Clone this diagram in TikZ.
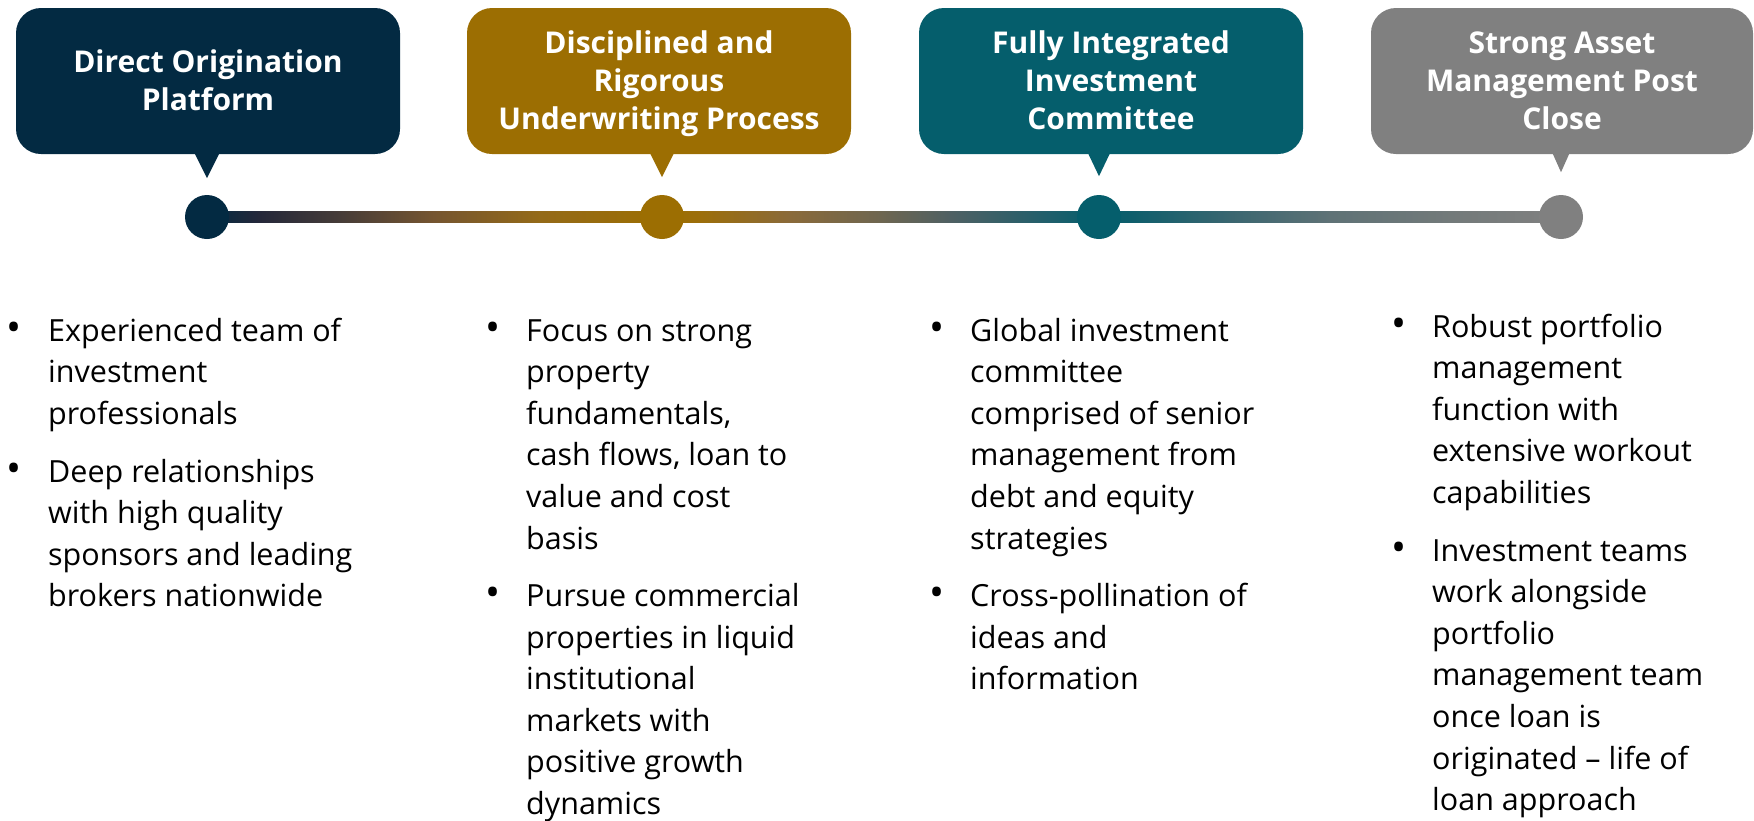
\documentclass[tikz,border=0pt]{standalone}
\usepackage{fontspec}
\setmainfont{Open Sans}
\usetikzlibrary{calc,backgrounds}
\definecolor{navy}{HTML}{032A42}
\definecolor{gold}{HTML}{9C6E02}
\definecolor{teal}{HTML}{055E6C}
\definecolor{greyc}{HTML}{808080}
\definecolor{gA}{HTML}{25283A}
\definecolor{gB}{HTML}{463C38}
\definecolor{gC}{HTML}{755530}
\definecolor{gD}{HTML}{946A18}
\definecolor{gE}{HTML}{9C6E0A}
\definecolor{gF}{HTML}{8A6A3A}
\definecolor{gG}{HTML}{6E6650}
\definecolor{gH}{HTML}{4F6063}
\definecolor{gI}{HTML}{1F5F6C}
\definecolor{gJ}{HTML}{0E5E6C}
\definecolor{gK}{HTML}{3A6670}
\definecolor{gL}{HTML}{5F7276}
\definecolor{gM}{HTML}{737A7A}
\pgfdeclarehorizontalshading{timeline}{100bp}{color(0bp)=(navy); color(25bp)=(navy);
  color(26.957bp)=(gA); color(29.911bp)=(gB); color(33.383bp)=(gC); color(37.297bp)=(gD);
  color(41.802bp)=(gold); color(43.205bp)=(gE); color(46.529bp)=(gF); color(49.853bp)=(gG);
  color(52.437bp)=(gH); color(56.130bp)=(gI); color(57.940bp)=(teal); color(59.085bp)=(gJ);
  color(62.777bp)=(gK); color(66.470bp)=(gL); color(70.902bp)=(gM); color(75bp)=(greyc);
  color(100bp)=(greyc)}
\newcommand{\itemlines}[1]{\begin{tabular}[t]{@{}l@{}}#1\end{tabular}}
\newcommand{\hdrlines}[1]{\begin{tabular}[t]{@{}c@{}}#1\end{tabular}}
\tikzset{
  hdr/.style={rounded corners=25pt, minimum width=384pt, minimum height=146pt, inner sep=0pt},
  hdrtext/.style={anchor=base, inner sep=0pt, text=white, font=\bfseries\fontsize{30}{38}\selectfont},
  dot/.style={circle, minimum size=44pt, inner sep=0pt},
  item/.style={anchor=base west, inner sep=0pt, font=\fontsize{30.5}{41.6}\selectfont},
  bul/.style={anchor=center, inner sep=0pt, font=\fontsize{40}{40}\selectfont},
}
\begin{document}
\begin{tikzpicture}[x=1pt,y=-1pt]
\useasboundingbox (0,0) rectangle (1754,820);
% header boxes
\node[hdr, fill=navy] (h1) at (208,81) {};
\node[hdr, fill=gold] (h2) at (659,81) {};
\node[hdr, fill=teal] (h3) at (1111,81) {};
\node[hdr, fill=greyc, minimum width=382pt] (h4) at (1562,81) {};
% header texts
\node[hdrtext] (ht1) at ($(h1.north)+(0,65)$) {\hdrlines{Direct Origination\\Platform}};
\node[hdrtext] (ht2) at ($(h2.north)+(0,46)$) {\hdrlines{Disciplined and\\Rigorous\\Underwriting Process}};
\node[hdrtext] (ht3) at ($(h3.north)+(0,46)$) {\hdrlines{Fully Integrated\\Investment\\Committee}};
\node[hdrtext] (ht4) at ($(h4.north)+(0,46)$) {\hdrlines{Strong Asset\\Management Post\\Close}};
% dots
\node[dot, fill=navy] (c1) at (207,217) {};
\node[dot, fill=gold] (c2) at (662,217) {};
\node[dot, fill=teal] (c3) at (1099,217) {};
\node[dot, fill=greyc] (c4) at (1561,217) {};
% tails
\fill[navy] ($(c1|-h1.south)+(-12.5,-1)$) -- ($(c1|-h1.south)+(12.5,-1)$) -- ($(c1|-h1.south)+(0,24)$) -- cycle;
\fill[gold] ($(c2|-h2.south)+(-12,-1)$) -- ($(c2|-h2.south)+(12,-1)$) -- ($(c2|-h2.south)+(0,23)$) -- cycle;
\fill[teal] ($(c3|-h3.south)+(-11,-1)$) -- ($(c3|-h3.south)+(11,-1)$) -- ($(c3|-h3.south)+(0,22)$) -- cycle;
\fill[greyc] ($(c4|-h4.south)+(-8.5,-1)$) -- ($(c4|-h4.south)+(8.5,-1)$) -- ($(c4|-h4.south)+(0,18)$) -- cycle;
% connector
\begin{scope}[on background layer]
\shade[shading=timeline] ($(c1.center)+(0,-5.5)$) rectangle ($(c4.center)+(0,5.5)$);
\end{scope}
% column 1
\node[bul] (b11) at (14,331.5) {•};
\node[item] (t11) at (48,341) {\itemlines{Experienced team of\\investment\\professionals}};
\node[bul] (b12) at (14,472.5) {•};
\node[item] (t12) at (48,482) {\itemlines{Deep relationships\\with high quality\\sponsors and leading\\brokers nationwide}};
% column 2
\node[bul] (b21) at (493,331.5) {•};
\node[item] (t21) at (526,341) {\itemlines{Focus on strong\\property\\fundamentals,\\cash flows, loan to\\value and cost\\basis}};
\node[bul] (b22) at (493,597) {•};
\node[item] (t22) at (526,606.5) {\itemlines{Pursue commercial\\properties in liquid\\institutional\\markets with\\positive growth\\dynamics}};
% column 3
\node[bul] (b31) at (937.5,331.5) {•};
\node[item] (t31) at (970,341) {\itemlines{Global investment\\committee\\comprised of senior\\management from\\debt and equity\\strategies}};
\node[bul] (b32) at (937.5,597) {•};
\node[item] (t32) at (970,606.5) {\itemlines{Cross-pollination of\\ideas and\\information}};
% column 4
\node[bul] (b41) at (1399,327.5) {•};
\node[item] (t41) at (1432,337) {\itemlines{Robust portfolio\\management\\function with\\extensive workout\\capabilities}};
\node[bul] (b42) at (1399,551.5) {•};
\node[item] (t42) at (1432,561) {\itemlines{Investment teams\\work alongside\\portfolio\\management team\\once loan is\\originated – life of\\loan approach}};
\end{tikzpicture}
\end{document}
